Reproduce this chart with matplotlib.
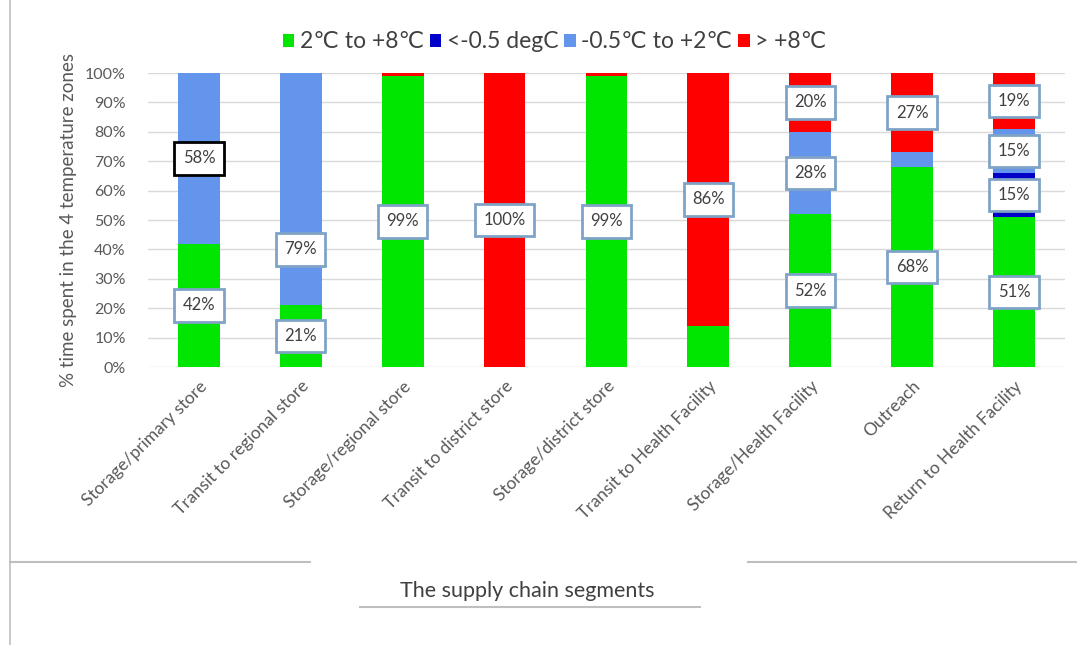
import matplotlib
matplotlib.use("Agg")
import matplotlib.pyplot as plt
from matplotlib.lines import Line2D
import numpy as np

plt.rcParams['font.family'] = ['Lato', 'DejaVu Sans']

# ---- data ----
segments = ['Storage/primary store', 'Transit to regional store', 'Storage/regional store',
            'Transit to district store', 'Storage/district store', 'Transit to Health Facility',
            'Storage/Health Facility', 'Outreach', 'Return to Health Facility']
zone_names = ['2\u2103 to +8\u2103', '<-0.5 degC', '-0.5\u2103 to +2\u2103', '> +8\u2103']
green = [42, 21, 99, 0, 99, 14, 52, 68, 51]
dark_blue = [0, 0, 0, 0, 0, 0, 0, 0, 15]
light_blue = [58, 79, 0, 0, 0, 0, 28, 5, 15]
red = [0, 0, 1, 100, 1, 86, 20, 27, 19]

# which segments carry a value label: (bar index, zone index)
labelled = [(0, 0), (0, 2), (1, 0), (1, 2), (2, 0), (3, 3), (4, 0), (5, 3),
            (6, 0), (6, 2), (6, 3), (7, 0), (7, 3), (8, 0), (8, 1), (8, 2), (8, 3)]
# label that was dragged away from its segment centre
label_moved = {(1, 2): 40}

colors = ['#00e600', '#0000c8', '#6495ed', '#ff0000']
grey = '#595959'

fig = plt.figure(figsize=(10.77, 6.45), dpi=100)
ax = fig.add_axes([0.1374, 0.431, 0.8514, 0.4558])

x = np.arange(len(segments))
width = 0.41
series = [green, dark_blue, light_blue, red]
bottom = np.zeros(len(segments))
bottoms = []
for vals, c, name in zip(series, colors, zone_names):
    vals = np.array(vals, dtype=float)
    ax.bar(x, vals, width, bottom=bottom, color=c, label=name, zorder=2)
    bottoms.append(bottom.copy())
    bottom = bottom + vals

for (i, z) in labelled:
    v = series[z][i]
    yc = label_moved.get((i, z), bottoms[z][i] + v / 2)
    edge = 'black' if (i, z) == (0, 2) else '#7fa3c6'
    ax.text(x[i], yc, f'{v}%', ha='center', va='center', fontsize=12, color='#404040',
            zorder=4, bbox=dict(boxstyle='square,pad=0.5', fc='white', ec=edge, lw=2))

ax.set_xlim(-0.5, len(segments) - 0.5)
ax.set_ylim(0, 100)
ax.set_yticks(np.arange(0, 101, 10))
ax.set_yticklabels([f'{t}%' for t in range(0, 101, 10)], fontsize=11.5, color=grey)
ax.yaxis.grid(True, color='#d9d9d9', lw=1, zorder=0)
ax.set_axisbelow(True)
for s in ax.spines.values():
    s.set_visible(False)
ax.tick_params(axis='both', length=0)
ax.tick_params(axis='y', pad=16)
ax.set_xticks(x)
ax.set_xticklabels(segments, rotation=45, ha='right', rotation_mode='anchor',
                   fontsize=12.5, color=grey)
ax.tick_params(axis='x', pad=8)
ax.set_ylabel('% time spent in the 4 temperature zones', fontsize=13.5, color=grey, labelpad=6)

fig.legend(loc='center', bbox_to_anchor=(0.515, 0.935), ncol=4, frameon=False,
           fontsize=16.5, handlelength=0.5, handleheight=0.5, handletextpad=0.25,
           columnspacing=0.25, labelcolor='#404040')

# frame lines and the title underneath
fig.add_artist(Line2D([10 / 1077, 10 / 1077], [0, 1], color='#bfbfbf', lw=1.2))
fig.add_artist(Line2D([10 / 1077, 310 / 1077], [1 - 562 / 645] * 2, color='#bfbfbf', lw=1.5))
fig.add_artist(Line2D([748 / 1077, 1], [1 - 562 / 645] * 2, color='#bfbfbf', lw=1.5))
fig.text(527 / 1077, 1 - 591 / 645, 'The supply chain segments', ha='center', va='center',
         fontsize=15.5, color='#404040')
fig.add_artist(Line2D([360 / 1077, 700 / 1077], [1 - 607 / 645] * 2, color='#bfbfbf', lw=1.5))

fig.savefig('out.png', dpi=100)
